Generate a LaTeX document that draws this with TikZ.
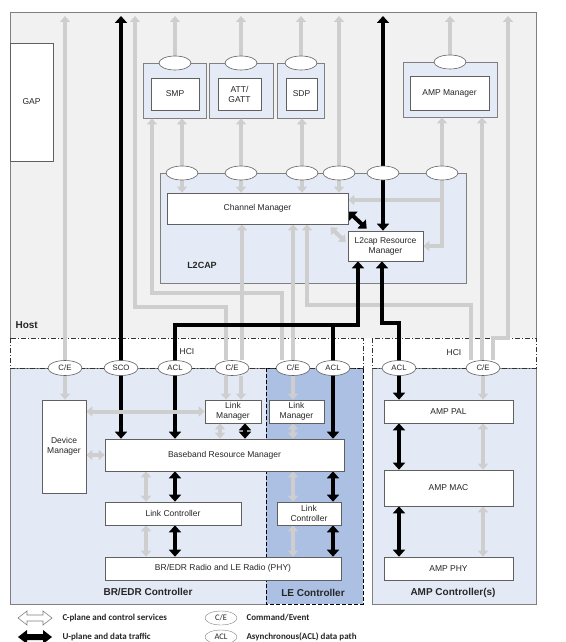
\documentclass[tikz,border=0pt]{standalone}
\usepackage{fontspec}
\setmainfont{Liberation Sans}
\newfontfamily\legfont{Carlito}
\usetikzlibrary{arrows.meta,shapes.geometric,calc}
\pgfdeclarelayer{bg}\pgfdeclarelayer{lines}\pgfsetlayers{bg,lines,main}
\definecolor{hostgray}{RGB}{241,241,241}
\definecolor{panelblue}{RGB}{229,235,246}
\definecolor{lebl}{RGB}{171,192,226}
\definecolor{ctrlblue}{RGB}{228,234,245}
\definecolor{lgray}{RGB}{206,206,206}
\definecolor{edge}{RGB}{128,128,128}
\definecolor{boxedge}{RGB}{96,96,96}
\begin{document}
\begin{tikzpicture}[x=1pt,y=-1pt,
  every node/.style={font=\fontsize{8.5}{10}\selectfont, align=center, text=black!85},
  panel/.style={draw=edge, fill=panelblue, inner sep=0pt, line width=0.8pt},
  wbox/.style={draw=boxedge, fill=white, inner sep=0pt, line width=0.6pt},
  oval/.style={ellipse, draw=boxedge, fill=white, inner sep=0pt, minimum width=32pt, minimum height=14pt, line width=0.6pt},
  hcio/.style={oval, minimum width=34pt, minimum height=15pt, font=\fontsize{7.8}{9}\selectfont},
  ga/.style={draw=lgray, line width=4pt, -{Triangle[width=10pt,length=6pt]}},
  gd/.style={ga, {Triangle[width=10pt,length=6pt]}-{Triangle[width=10pt,length=6pt]}},
  ba/.style={draw=black, line width=4pt, -{Triangle[width=12pt,length=7pt]}},
  bd/.style={ba, {Triangle[width=12pt,length=7pt]}-{Triangle[width=12pt,length=7pt]}},
  hcil/.style={draw=black!80, line width=0.7pt, dash pattern=on 5pt off 2pt on 1pt off 2pt},
  bold/.style={font=\fontsize{10}{12}\selectfont\bfseries},
  leg/.style={font=\legfont\bfseries\fontsize{9}{11}\selectfont, anchor=west}
]
\useasboundingbox (0,0) rectangle (565,642);
\coordinate (top) at (0,16);

\begin{pgfonlayer}{bg}
\fill[white] (0,0) rectangle (565,642);
\fill[hostgray] (10,12) rectangle (536,338);
\draw[edge, line width=0.8pt] (10,338) -- (10,12) -- (536,12) -- (536,338);
\draw[edge, fill=ctrlblue, line width=0.8pt] (10,368) rectangle (266,604);
\draw[black, fill=lebl, line width=1pt, dash pattern=on 4pt off 2pt] (266,368) rectangle (363,604);
\draw[edge, fill=ctrlblue, line width=0.8pt] (372,368) rectangle (536,604);
\fill[white] (10,338) rectangle (363,368);
\fill[white] (372,338) rectangle (536,368);
\draw[hcil] (10,338) rectangle (363,368);
\draw[hcil] (372,338) rectangle (536,368);
\node[panel, minimum width=63pt, minimum height=55pt] (smpP) at (174.5,90.5) {};
\node[panel, minimum width=64pt, minimum height=55pt] (attP) at (241,90.5) {};
\node[panel, minimum width=47pt, minimum height=55pt] (sdpP) at (300.5,90.5) {};
\node[panel, minimum width=94pt, minimum height=55pt] (ampP) at (450,89.5) {};
\node[panel, minimum width=306pt, minimum height=110pt] (l2P) at (313,228) {};
\end{pgfonlayer}

% boxes
\node[wbox, minimum width=43pt, minimum height=118pt] (gap) at (31.5,102) {GAP};
\node[wbox, minimum width=48pt, minimum height=32pt] (smp) at (175,94) {SMP};
\node[wbox, minimum width=43pt, minimum height=32pt] (att) at (239.5,94) {ATT/\\GATT};
\node[wbox, minimum width=31pt, minimum height=32pt] (sdp) at (301.5,94) {SDP};
\node[wbox, minimum width=79pt, minimum height=34pt] (ampm) at (449.5,93) {AMP Manager};
\node[wbox, minimum width=181pt, minimum height=31pt] (cm) at (257.5,208.5) {Channel Manager};
\node[wbox, minimum width=75pt, minimum height=30pt] (rm) at (385.5,246) {L2cap Resource\\Manager};

\node[wbox, minimum width=44pt, minimum height=93pt] (dm) at (64,446.5) {Device\\Manager};
\node[wbox, minimum width=56pt, minimum height=23pt] (lm1) at (233,411.5) {Link\\Manager};
\node[wbox, minimum width=239pt, minimum height=32pt] (bbrm) at (224.5,455) {Baseband Resource Manager};
\node[wbox, minimum width=136pt, minimum height=23pt] (lc1) at (173,513.5) {Link Controller};
\node[wbox, minimum width=236pt, minimum height=23pt] (radio) at (223,568.5) {BR/EDR Radio and LE Radio (PHY)};
\node[wbox, minimum width=55pt, minimum height=23pt] (lm2) at (296.5,411.5) {Link\\Manager};
\node[wbox, minimum width=64pt, minimum height=23pt] (lc2) at (309,513.5) {Link\\Controller};
\node[wbox, minimum width=129pt, minimum height=23pt] (pal) at (448.5,411.5) {AMP PAL};
\node[wbox, minimum width=129pt, minimum height=36pt] (mac) at (448.5,488) {AMP MAC};
\node[wbox, minimum width=129pt, minimum height=23pt] (phy) at (448.5,568.5) {AMP PHY};

% ovals
\node[oval] (so1) at (175,63) {};
\node[oval] (so2) at (241,63) {};
\node[oval] (so3) at (301,63) {};
\node[oval] (so4) at (450,62) {};
\node[oval] (o1) at (182,173) {};
\node[oval] (o2) at (241,173) {};
\node[oval] (o3) at (302,173) {};
\node[oval] (o4) at (339,173) {};
\node[oval] (o5) at (383,173) {};
\node[oval] (o6) at (442,173) {};

\node[hcio] (ce1) at (65,368) {C/E};
\node[hcio] (ce2) at (121,368) {SCO};
\node[hcio] (ce3) at (175,368) {ACL};
\node[hcio] (ce4) at (232,368) {C/E};
\node[hcio] (ce5) at (293,368) {C/E};
\node[hcio] (ce6) at (333,368) {ACL};
\node[hcio] (ce7) at (399,368) {ACL};
\node[hcio] (ce8) at (483,368) {C/E};

% labels
\node[bold, anchor=west] (lhost) at (12,325) {Host};
\node[font=\fontsize{9}{11}\selectfont\bfseries] (ll2) at (202,265) {L2CAP};
\node (lhci1) at (187,352) {HCI};
\node (lhci2) at (454,353) {HCI};
\node[bold] (lbr) at (148,592) {BR/EDR Controller};
\node[bold] (lle) at (313,593) {LE Controller};
\node[bold] (lamp) at (453,593) {AMP Controller(s)};

\begin{pgfonlayer}{lines}
% host, gray
\draw[ga] (ce1.north) -- (ce1.north |- top);
\draw[ga] (ce1.south) -- (ce1.south |- dm.north);
\draw[ga] (226,0 |- ce4.north) -- (226,307) -- (135,307) -- (135,0 |- top);
\draw[ga] (282,0 |- ce5.north) -- (282,293) -- (152,293) -- (152,0 |- smpP.south);
\draw[ga] (o1.north) -- (o1.north |- smpP.south);
\draw[ga] (o1.south) -- (o1.south |- cm.north);
\draw[ga] (o2.north) -- (o2.north |- attP.south);
\draw[ga] (o2.south) -- (o2.south |- cm.north);
\draw[ga] (o3.north) -- (o3.north |- sdpP.south);
\draw[ga] (o3.south) -- (o3.south |- cm.north);
\draw[ga] (o4.north) -- (o4.north |- top);
\draw[ga] (o4.south) -- (o4.south |- cm.north);
\draw[ga] (o6.north) -- (o6.north |- ampP.south);
\draw[ga] (o6.south) -- (o6.south |- rm.east) -- (rm.east);
\draw[ga] (o6.south |- 0,200) -- (cm.east |- 0,200);
\draw[ga] (so1.north) -- (so1.north |- top);
\draw[ga] (so2.north) -- (so2.north |- top);
\draw[ga] (so3.north) -- (so3.north |- top);
\draw[ga] (so4.north) -- (so4.north |- top);
\draw[ga] (242,0 |- ce4.north) -- (242,0 |- cm.south);
\draw[ga] (ce5.north) -- (ce5.north |- cm.south);
\draw[ga] (471,0 |- ce8.north) -- (471,305) -- (307,305) -- (307,0 |- cm.south);
\draw[ga] (482,0 |- ce8.north) -- (482,0 |- ampP.south);
\draw[ga] (493,0 |- ce8.north) -- (493,338) -- (508,338) -- (508,0 |- top);
\draw[gd] ($(cm.south east)+(-18,3)$) -- ($(rm.west)+(-2,-4)$);
% host, black
\draw[bd] (ce2.north |- top) -- (ce2.south |- bbrm.north);
\draw[bd] (358,0 |- rm.south) -- (358,325) -- (175,325) -- (ce3.south |- bbrm.north);
\draw[ba] (333,325) -- (ce6.south |- bbrm.north);
\draw[bd] (383,0 |- top) -- (383,0 |- rm.north);
\draw[bd] (382,0 |- rm.south) -- (382,323) -- (399,323) -- (ce7.south |- pal.north);
\draw[bd] ($(cm.east)+(0,3)$) -- ($(rm.north west)+(19,-2)$);
% controllers
\draw[ga] (226,0 |- ce4.south) -- (226,0 |- lm1.north);
\draw[ga] (241,0 |- ce4.south) -- (241,0 |- lm1.north);
\draw[ga] (ce5.south) -- (ce5.south |- lm2.north);
\draw[ga] (ce8.south) -- (ce8.south |- pal.north);
\draw[gd] (dm.east |- lm1.west) -- (lm1.west);
\draw[gd] (dm.east |- bbrm.west) -- (bbrm.west);
\draw[gd] (220,0 |- lm1.south) -- (220,0 |- bbrm.north);
\draw[bd] (245,0 |- lm1.south) -- (245,0 |- bbrm.north);
\draw[gd] (146,0 |- bbrm.south) -- (146,0 |- lc1.north);
\draw[bd] (175,0 |- bbrm.south) -- (175,0 |- lc1.north);
\draw[gd] (146,0 |- lc1.south) -- (146,0 |- radio.north);
\draw[bd] (175,0 |- lc1.south) -- (175,0 |- radio.north);
\draw[gd] (293,0 |- lm2.south) -- (293,0 |- bbrm.north);
\draw[gd] (293,0 |- bbrm.south) -- (293,0 |- lc2.north);
\draw[bd] (333,0 |- bbrm.south) -- (333,0 |- lc2.north);
\draw[gd] (293,0 |- lc2.south) -- (293,0 |- radio.north);
\draw[bd] (333,0 |- lc2.south) -- (333,0 |- radio.north);
\draw[bd] (399,0 |- pal.south) -- (399,0 |- mac.north);
\draw[gd] (483,0 |- pal.south) -- (483,0 |- mac.north);
\draw[bd] (399,0 |- mac.south) -- (399,0 |- phy.north);
\draw[gd] (483,0 |- mac.south) -- (483,0 |- phy.north);
\end{pgfonlayer}

% legend
\draw[edge, fill=white, line width=0.6pt] (18,618) -- (27,611) -- (27,615) -- (43,615) -- (43,611) -- (52,618) -- (43,625) -- (43,621) -- (27,621) -- (27,625) -- cycle;
\fill[black] (18,637) -- (27,630) -- (27,634) -- (43,634) -- (43,630) -- (52,637) -- (43,644) -- (43,640) -- (27,640) -- (27,644) -- cycle;
\node[leg] (lg1) at (59,618) {C-plane and control services};
\node[leg] (lg2) at (59,637) {U-plane and data traffic};
\node[ellipse, draw=edge, fill=white, minimum width=32pt, minimum height=14pt, inner sep=0pt, font=\legfont\fontsize{8.5}{10}\selectfont] (lo1) at (221,618) {C/E};
\node[ellipse, draw=edge, fill=white, minimum width=32pt, minimum height=14pt, inner sep=0pt, font=\legfont\fontsize{8.5}{10}\selectfont] (lo2) at (221,637) {ACL};
\node[leg] (lg3) at (243,618) {Command/Event};
\node[leg] (lg4) at (243,637) {Asynchronous(ACL) data path};
\end{tikzpicture}
\end{document}
